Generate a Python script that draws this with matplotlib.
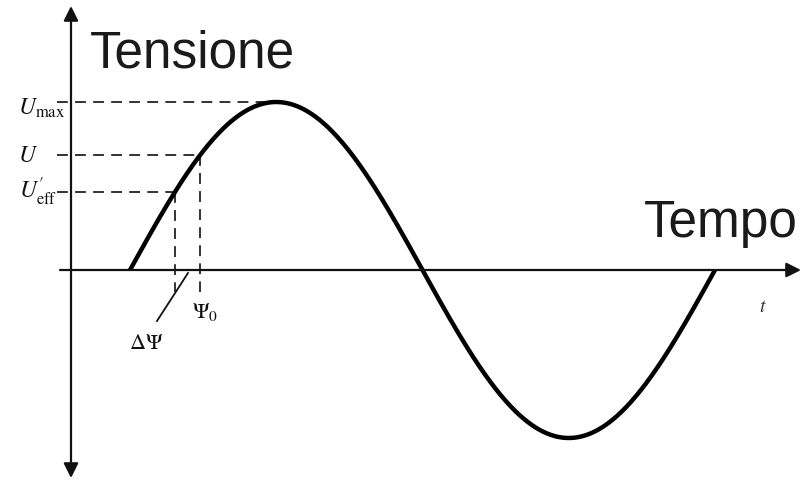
import numpy as np
import matplotlib
matplotlib.use("Agg")
import matplotlib.pyplot as plt

plt.rcParams['mathtext.fontset'] = 'stix'

# ---- data ----
amplitude = 1.0                      # U_max (normalised)
period_deg = 360.0                   # one full cycle
level_values = [1.0, 0.685, 0.464]   # U_max, U, U'_eff
level_labels = [r'$U_{\mathrm{max}}$', r'$U$', r"$U^{\prime}_{\mathrm{eff}}$"]
phase_labels = [r'$\Delta\Psi$', r'$\Psi_0$']
axis_labels = ['Tensione', 'Tempo']
time_label = r'$t$'

W, H = 801, 482
fig = plt.figure(figsize=(W / 100, H / 100), dpi=100)
ax = fig.add_axes([0, 0, 1, 1])
ax.set_axis_off()

# pixel -> data helpers (layout only)
def dx(px):
    return (px - 130) * 360.0 / 585.0

def dy(py):
    return (270 - py) / 168.0

ax.set_xlim(dx(0), dx(W))
ax.set_ylim(dy(H), dy(0))

# sine wave
phase = np.linspace(0, period_deg, 600)
ax.plot(phase, amplitude * np.sin(np.radians(phase)), color='black', lw=3.2,
        solid_capstyle='butt', zorder=3)

# axes with arrows
ax.annotate('', xy=(dx(801), 0), xytext=(dx(60), 0),
            arrowprops=dict(arrowstyle='-|>', mutation_scale=22, lw=1.6,
                            color='#111', shrinkA=0, shrinkB=0))
ax.annotate('', xy=(dx(71), dy(6)), xytext=(dx(71), dy(478)),
            arrowprops=dict(arrowstyle='<|-|>', mutation_scale=22, lw=1.6,
                            color='#111', shrinkA=0, shrinkB=0))

# dashed level lines
x_start = dx(57)
for i, v in enumerate(level_values):
    xc = np.degrees(np.arcsin(v / amplitude))
    ax.plot([x_start, xc], [v, v], color='#222', lw=1.3, ls=(0, (6, 4)), zorder=2)
    if i > 0:
        ax.plot([xc, xc], [v, dy(292)], color='#222', lw=1.3, ls=(0, (6, 4)), zorder=2)

# leader line for Delta Psi
ax.plot([dx(188), dx(157)], [dy(273), dy(321)], color='#111', lw=1.3)

# level labels
label_pos = [(42, 108), (28, 155), (38, 192)]
for (px, py), lab in zip(label_pos, level_labels):
    ax.text(dx(px), dy(py), lab, fontsize=17, ha='center', va='center', color='#111')

ax.text(dx(146), dy(343), phase_labels[0], fontsize=16, ha='center', va='center', color='#111')
ax.text(dx(205), dy(312), phase_labels[1], fontsize=16, ha='center', va='center', color='#111')
ax.text(dx(763), dy(306), time_label, fontsize=14, ha='center', va='center', color='#333')

ax.text(dx(90), dy(68), axis_labels[0], fontsize=37, family='Liberation Sans',
        ha='left', va='baseline', color='#1a1a1a')
ax.text(dx(644), dy(237), axis_labels[1], fontsize=37, family='Liberation Sans',
        ha='left', va='baseline', color='#1a1a1a')

fig.savefig('out.png', dpi=100, facecolor='white')
